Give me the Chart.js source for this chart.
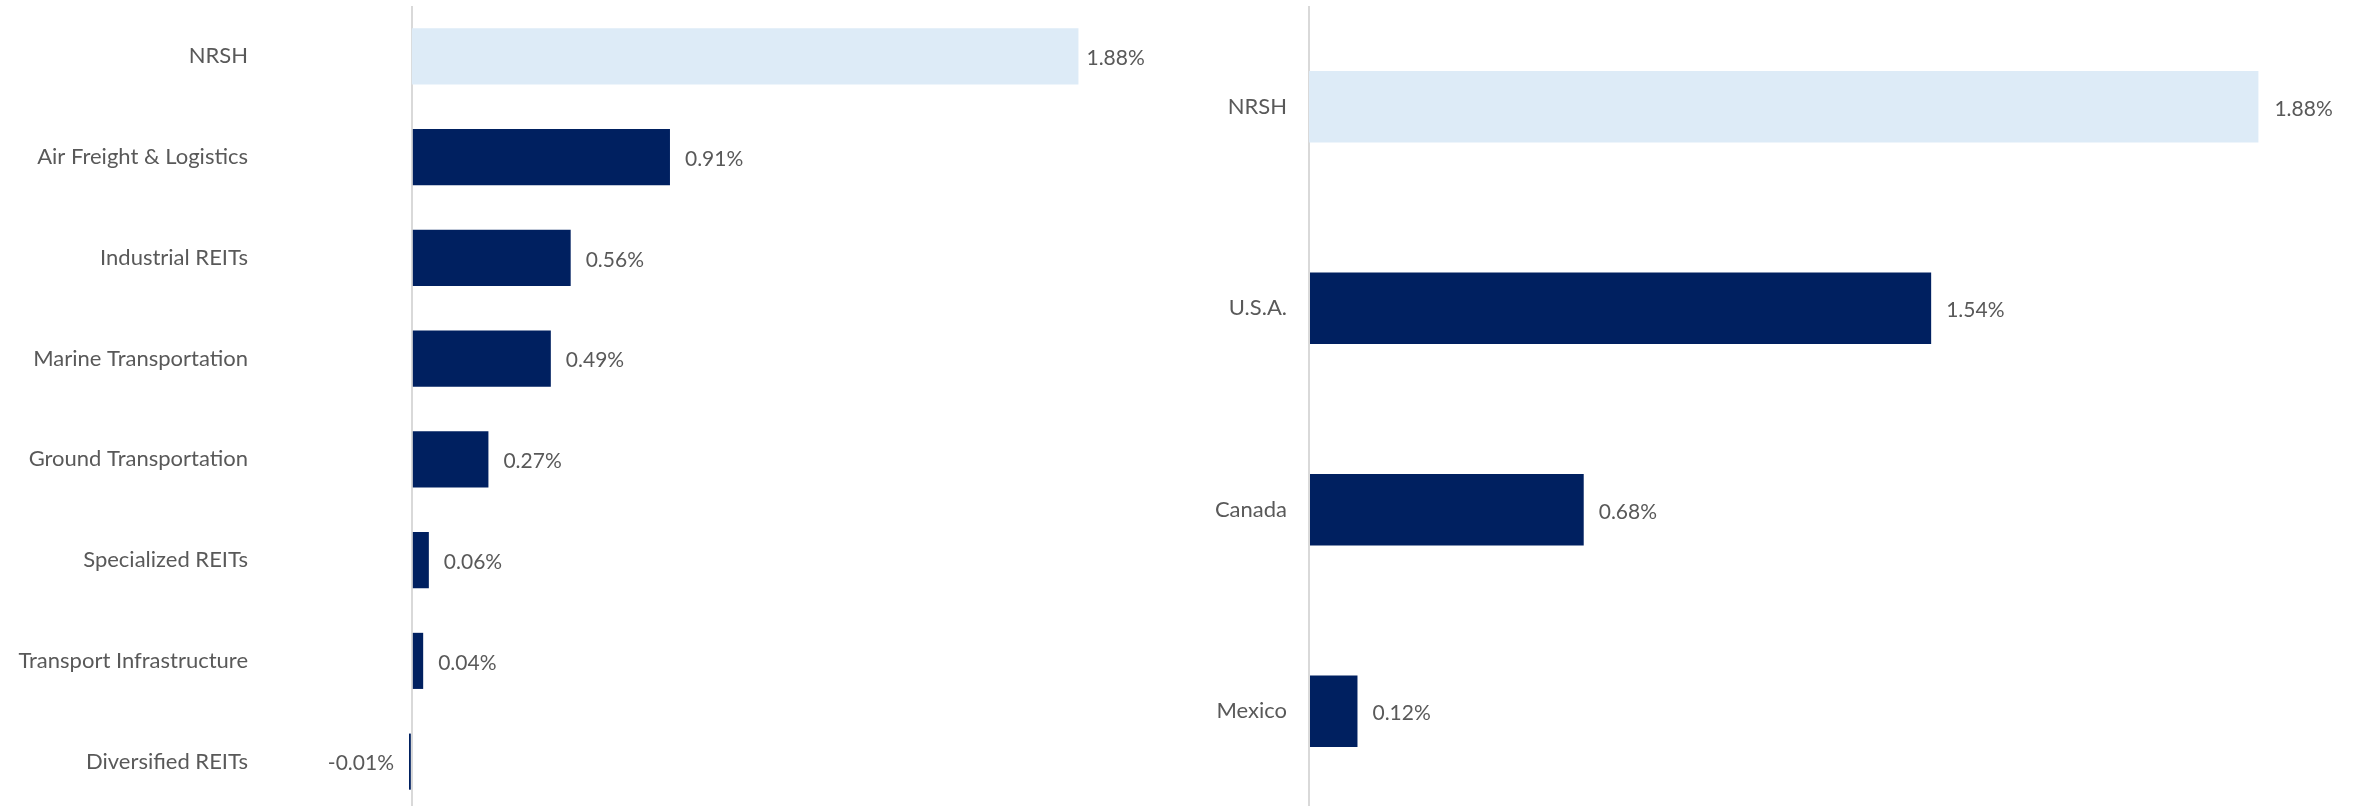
<!DOCTYPE html>
<html>
<head>
<meta charset="utf-8">
<script src="https://cdn.jsdelivr.net/npm/chart.js@4.4.1/dist/chart.umd.min.js"></script>
<style>
  html, body { margin: 0; padding: 0; background: #fff; }
  body { width: 2358px; height: 806px; overflow: hidden; position: relative; }
  .box { position: absolute; top: 0; height: 812px; }
  #leftBox { left: 0; width: 1180px; }
  #rightBox { left: 1180px; width: 1178px; }
</style>
</head>
<body>
<div class="box" id="leftBox"><canvas id="sectorChart"></canvas></div>
<div class="box" id="rightBox"><canvas id="countryChart"></canvas></div>
<script>
// left chart: contribution by industry
const sectorLabels = [
    'NRSH',
    'Air Freight & Logistics',
    'Industrial REITs',
    'Marine Transportation',
    'Ground Transportation',
    'Specialized REITs',
    'Transport Infrastructure',
    'Diversified REITs'
]
const sectorValues = [1.88, 0.91, 0.56, 0.49, 0.27, 0.06, 0.04, -0.01]

// right chart: contribution by country
const countryLabels = ['NRSH', 'U.S.A.', 'Canada', 'Mexico']
const countryValues = [1.88, 1.54, 0.68, 0.12]

const NAVY = '#002060'
const LIGHT = '#DDEBF7'
const TEXT = '#595959'
const FONT = 'Lato, "Open Sans", sans-serif'

// draws "x.xx%" next to each bar end
const valueLabels = {
    id: 'valueLabels',
    afterDatasetsDraw(chart) {
        const ctx = chart.ctx
        ctx.save()
        ctx.font = '21px ' + FONT
        ctx.fillStyle = TEXT
        ctx.textBaseline = 'middle'
        chart.data.datasets.forEach((ds, di) => {
            const meta = chart.getDatasetMeta(di)
            meta.data.forEach((bar, i) => {
                const v = ds.data[i]
                if (v === null || v === undefined) return
                const gap = ds.labelGap || 15
                const txt = v.toFixed(2) + '%'
                if (v >= 0) {
                    ctx.textAlign = 'left'
                    ctx.fillText(txt, bar.x + gap, bar.y + 2)
                } else {
                    ctx.textAlign = 'right'
                    ctx.fillText(txt, bar.x - gap, bar.y + 2)
                }
            })
        })
        ctx.restore()
    }
}

function makeChart(id, labels, values, opts) {
    const head = values.map((v, i) => i === 0 ? v : null)
    const rest = values.map((v, i) => i === 0 ? null : v)
    return new Chart(document.getElementById(id), {
        type: 'bar',
        data: {
            labels: labels,
            datasets: [{
                label: 'NRSH',
                data: head,
                xAxisID: 'x2',
                backgroundColor: LIGHT,
                labelGap: opts.headGap,
            }, {
                label: 'Other',
                data: rest,
                xAxisID: 'x',
                backgroundColor: NAVY,
                labelGap: 15,
            }]
        },
        options: {
            indexAxis: 'y',
            responsive: true,
            maintainAspectRatio: false,
            animation: false,
            datasets: {
                bar: {
                    grouped: false,
                    categoryPercentage: 1,
                    barPercentage: opts.barPct,
                }
            },
            layout: {
                padding: { top: 6, bottom: 0, left: 0, right: opts.padRight }
            },
            scales: {
                y: {
                    afterFit: (s) => {
                        s.width = opts.labelWidth
                        s.paddingTop = 0
                        s.paddingBottom = 0
                    },
                    grid: { display: false, drawTicks: false },
                    border: { display: false },
                    ticks: {
                        color: TEXT,
                        padding: 22,
                        font: { family: FONT, size: 22 },
                    },
                },
                x: {
                    min: opts.min,
                    max: opts.max,
                    afterFit: (s) => { s.height = 0 },
                    ticks: { display: false, stepSize: 0.5 },
                    border: { display: false },
                    grid: {
                        drawTicks: false,
                        lineWidth: 2,
                        color: (c) => c.tick && c.tick.value === 0 ? '#D9D9D9' : 'rgba(0,0,0,0)',
                    },
                },
                x2: {
                    display: false,
                    min: opts.min2,
                    max: opts.max2,
                },
            },
            plugins: {
                legend: { display: false },
                tooltip: { enabled: false },
            },
        },
        plugins: [valueLabels]
    })
}

makeChart('sectorChart', sectorLabels, sectorValues, {
    min: -0.5, max: 2.5, min2: -0.4, max2: 2.0,
    labelWidth: 270, padRight: 59, barPct: 0.557, headGap: 8
})
makeChart('countryChart', countryLabels, countryValues, {
    min: 0, max: 2.5, min2: 0, max2: 2.0,
    labelWidth: 129, padRight: 39, barPct: 0.355, headGap: 16
})
</script>
</body>
</html>
